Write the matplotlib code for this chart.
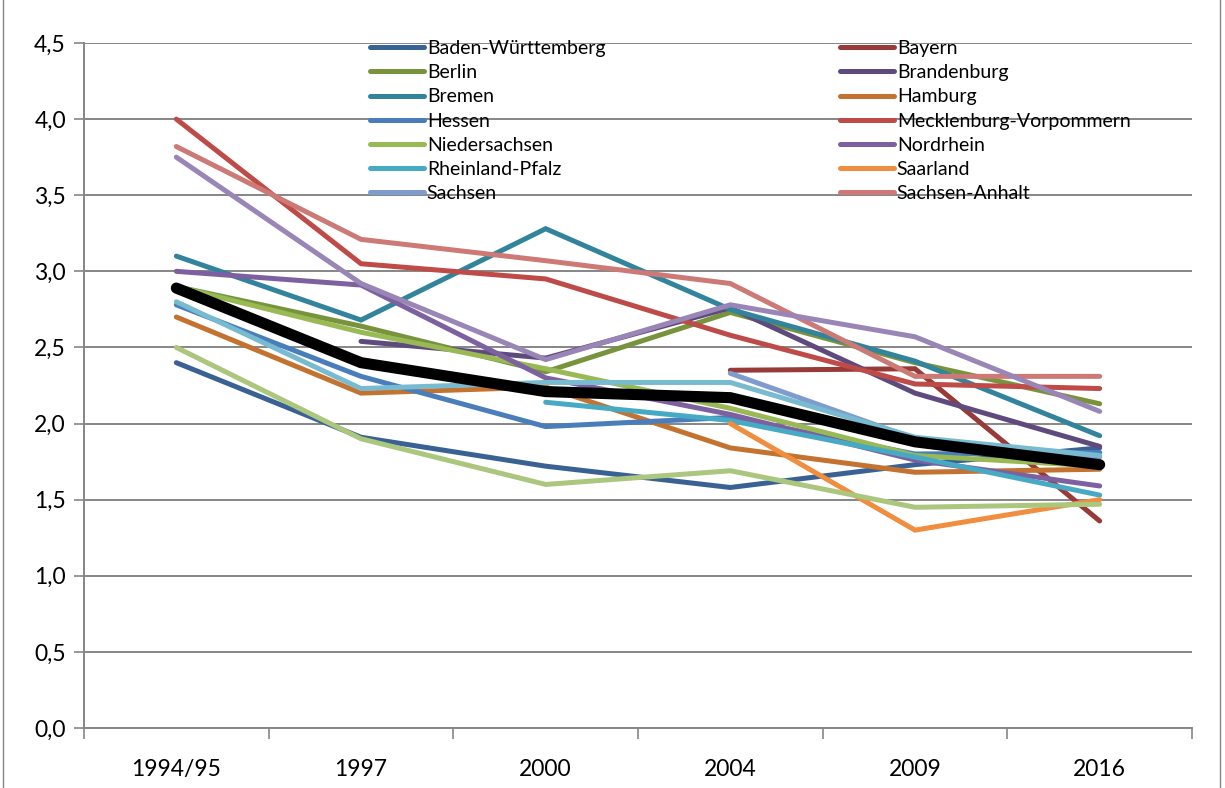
import matplotlib.pyplot as plt
import numpy as np
from matplotlib.lines import Line2D

plt.rcParams['font.family'] = ['Lato', 'DejaVu Sans']

# categories
years = ['1994/95', '1997', '2000', '2004', '2009', '2016']

# series values (None = no value)
baden_wuerttemberg = [2.40, 1.91, 1.72, 1.58, 1.73, 1.84]
bayern = [None, None, None, 2.35, 2.36, 1.36]
berlin = [2.90, 2.64, 2.34, 2.73, 2.40, 2.13]
brandenburg = [None, 2.54, 2.43, 2.76, 2.20, 1.85]
bremen = [3.10, 2.68, 3.28, 2.75, 2.41, 1.92]
hamburg = [2.70, 2.20, 2.24, 1.84, 1.68, 1.70]
hessen = [2.78, 2.31, 1.98, 2.04, 1.80, 1.81]
mecklenburg = [4.00, 3.05, 2.95, 2.58, 2.26, 2.23]
niedersachsen = [2.90, 2.60, 2.36, 2.10, 1.79, 1.72]
nordrhein = [3.00, 2.91, 2.30, 2.06, 1.76, 1.59]
rheinland_pfalz = [None, None, 2.14, 2.02, 1.78, 1.53]
saarland = [None, None, None, 2.00, 1.30, 1.50]
sachsen = [None, None, None, 2.33, 1.90, 1.78]
sachsen_anhalt = [3.82, 3.21, 3.07, 2.92, 2.31, 2.31]
schleswig_holstein = [2.50, 1.90, 1.60, 1.69, 1.45, 1.47]
thueringen = [3.75, 2.92, 2.42, 2.78, 2.57, 2.08]
westfalen_lippe = [2.80, 2.23, 2.27, 2.27, 1.91, 1.79]
deutschland = [2.89, 2.40, 2.21, 2.17, 1.88, 1.73]

series = [
    ('Baden-Württemberg', baden_wuerttemberg, '#3A6193'),
    ('Bayern', bayern, '#983A37'),
    ('Berlin', berlin, '#77933C'),
    ('Brandenburg', brandenburg, '#5F4A7E'),
    ('Bremen', bremen, '#31849B'),
    ('Hamburg', hamburg, '#C3722F'),
    ('Hessen', hessen, '#4A7EBB'),
    ('Mecklenburg-Vorpommern', mecklenburg, '#BE4B48'),
    ('Niedersachsen', niedersachsen, '#98B954'),
    ('Nordrhein', nordrhein, '#7D60A0'),
    ('Rheinland-Pfalz', rheinland_pfalz, '#46AAC5'),
    ('Saarland', saarland, '#F08D3E'),
    ('Sachsen', sachsen, '#7F9CCF'),
    ('Sachsen-Anhalt', sachsen_anhalt, '#CD7A77'),
    ('Schleswig-Holstein', schleswig_holstein, '#ABC67D'),
    ('Thüringen', thueringen, '#9A85B7'),
    ('Westfalen-Lippe', westfalen_lippe, '#78BBD0'),
]

fig = plt.figure(figsize=(12.25, 7.88), dpi=100)
ax = fig.add_axes([84/1225, 1-728/788, (1192-84)/1225, (728-43)/788])

x = np.arange(len(years))
handles = {}
for name, vals, col in series:
    y = np.array([np.nan if v is None else v for v in vals])
    ln, = ax.plot(x, y, color=col, lw=3.6, solid_capstyle='round',
                  solid_joinstyle='miter', label=name)
    handles[name] = ln
ax.plot(x, deutschland, color='black', lw=8, solid_capstyle='round',
        solid_joinstyle='miter')

ax.set_xlim(-0.5, len(years) - 0.5)
ax.set_ylim(0, 4.5)
ax.set_yticks(np.arange(0, 4.51, 0.5))
ax.set_yticklabels([('%.1f' % v).replace('.', ',') for v in np.arange(0, 4.51, 0.5)])
ax.set_xticks(np.arange(-0.5, len(years), 1.0))
ax.set_xticklabels([])
ax.set_xticks(x, minor=True)
ax.set_xticklabels(years, minor=True)
ax.tick_params(axis='x', which='minor', length=0, pad=22, labelsize=16.5)
ax.tick_params(axis='x', which='major', length=8, width=1.2, color='#868686', direction='out')
ax.tick_params(axis='y', length=7, width=1.2, color='#868686', labelsize=16.5, pad=6)

ax.grid(axis='y', color='#868686', lw=1.4)
ax.set_axisbelow(True)
for s in ['top', 'right']:
    ax.spines[s].set_visible(False)
for s in ['left', 'bottom']:
    ax.spines[s].set_color('#868686')
    ax.spines[s].set_linewidth(1.4)

# legend in two columns, row-wise like the original
names = [s[0] for s in series[:14]]
left_names = names[0::2]
right_names = names[1::2]
leg_kw = dict(loc='upper left', frameon=False, fontsize=14, handlelength=2.8,
              handletextpad=0.12, labelspacing=0.37, borderpad=0, borderaxespad=0,
              bbox_transform=fig.transFigure)
leg1 = ax.legend([handles[n] for n in left_names], left_names,
                 bbox_to_anchor=(370/1225, 1-40/788), **leg_kw)
ax.add_artist(leg1)
ax.legend([handles[n] for n in right_names], right_names,
          bbox_to_anchor=(840/1225, 1-40/788), **leg_kw)

# chart border
fig.add_artist(Line2D([3/1225, 3/1225], [0, 1], transform=fig.transFigure, color='#868686', lw=1))
fig.add_artist(Line2D([1220/1225, 1220/1225], [0, 1], transform=fig.transFigure, color='#868686', lw=1))

fig.savefig('out.png', dpi=100)
